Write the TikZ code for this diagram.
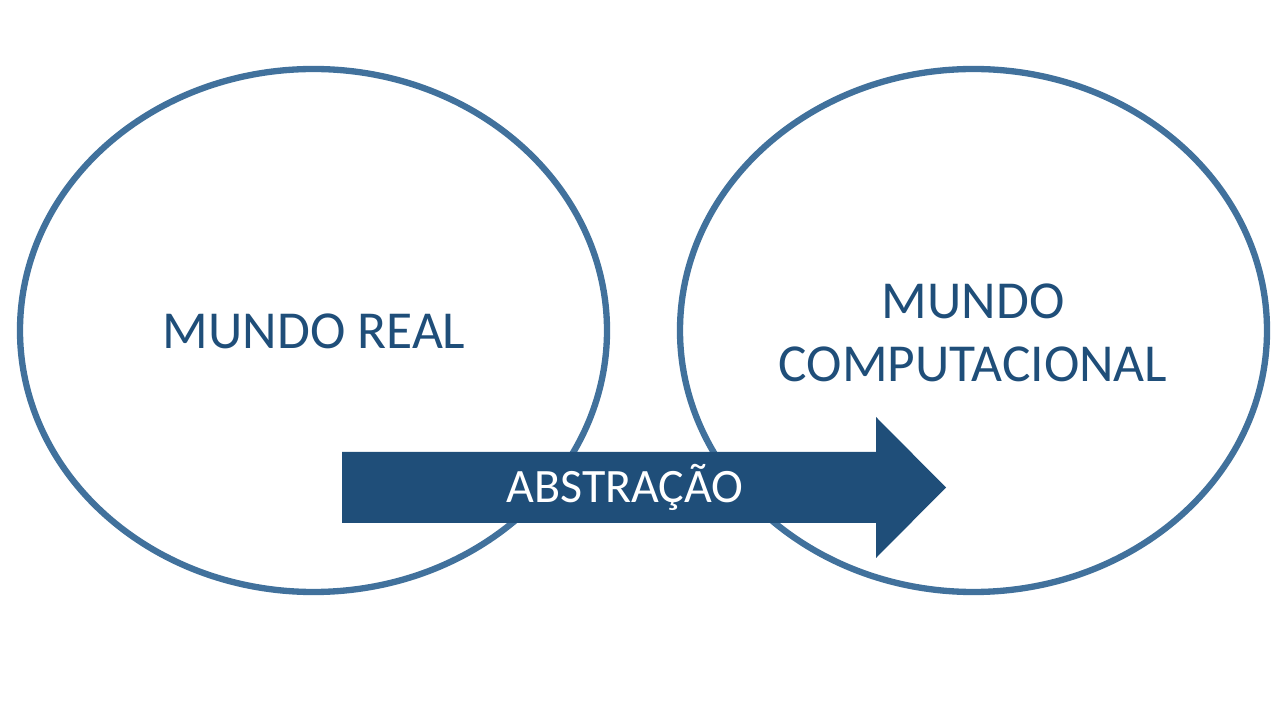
\documentclass[tikz,border=0pt]{standalone}
\usepackage{fontspec}
\setmainfont{Carlito}
\usetikzlibrary{shapes.geometric}
\definecolor{ringblue}{RGB}{65,113,156}
\definecolor{darkblue}{RGB}{31,78,121}
\tikzset{
  world/.style={draw=ringblue, line width=3.6pt, ellipse,
    minimum width=11.74cm, minimum height=10.46cm, inner sep=0pt},
  worldtext/.style={text=darkblue, align=center,
    font=\fontsize{30.4}{35.7}\selectfont},
}
\begin{document}
\begin{tikzpicture}
  \useasboundingbox (0,0) rectangle (25.6,14.4);

  \node [world] (real) at (6.27,7.79) {};
  \node [world] (comp) at (19.47,7.79) {};
  \node [worldtext] (reallabel) at (6.28,7.78) {MUNDO REAL};
  \node [worldtext] (complabel) at (19.46,7.75) {MUNDO\\COMPUTACIONAL};

  % arrow between the two worlds
  \fill [darkblue] (6.84,5.36) -- (17.52,5.36) -- (17.52,6.06) -- (18.92,4.65)
    -- (17.52,3.24) -- (17.52,3.94) -- (6.84,3.94) -- cycle;
  \node [text=white, font=\fontsize{27.3}{32}\selectfont, anchor=base] (abs) at (12.5,4.34) {ABSTRAÇÃO};
\end{tikzpicture}
\end{document}
